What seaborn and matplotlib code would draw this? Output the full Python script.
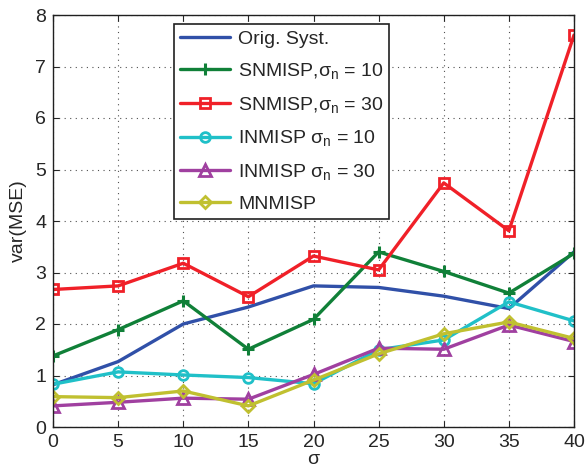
import matplotlib
matplotlib.use("Agg")
import matplotlib.pyplot as plt
import seaborn as sns
import pandas as pd

sigma = [0, 5, 10, 15, 20, 25, 30, 35, 40]
orig = [0.82, 1.27, 2.00, 2.33, 2.74, 2.71, 2.54, 2.30, 3.40]
snm10 = [1.38, 1.89, 2.45, 1.51, 2.09, 3.40, 3.02, 2.60, 3.37]
snm30 = [2.67, 2.74, 3.18, 2.53, 3.32, 3.05, 4.74, 3.81, 7.61]
inm10 = [0.83, 1.07, 1.01, 0.96, 0.84, 1.50, 1.69, 2.43, 2.06]
inm30 = [0.41, 0.48, 0.56, 0.54, 1.02, 1.53, 1.51, 1.98, 1.66]
mnm = [0.59, 0.57, 0.70, 0.41, 0.91, 1.42, 1.81, 2.04, 1.72]

labels = ["Orig. Syst.", r"SNMISP,$\sigma_n$ = 10", r"SNMISP,$\sigma_n$ = 30",
          r"INMISP $\sigma_n$ = 10", r"INMISP $\sigma_n$ = 30", "MNMISP"]
series = [orig, snm10, snm30, inm10, inm30, mnm]
colors = ["#3050a8", "#108038", "#f02028", "#20c0c8", "#a040a0", "#c0c030"]
markers = [None, "P", "s", "o", "^", "D"]

sns.set_style("ticks")
plt.rcParams['font.family'] = ['Liberation Sans', 'DejaVu Sans']
plt.rcParams['mathtext.fontset'] = 'custom'
plt.rcParams['mathtext.rm'] = 'Liberation Sans'
plt.rcParams['mathtext.it'] = 'Liberation Sans'

fig = plt.figure(figsize=(5.86, 4.67), dpi=100)
ax = fig.add_axes([53/586, 1-427/467, (574-53)/586, (427-15)/467])

for lab, vals, c, m in zip(labels, series, colors, markers):
    df = pd.DataFrame({"sigma": sigma, "val": vals})
    kw = {}
    if m is not None:
        if m == "P":
            kw = dict(marker="+", markersize=9, markeredgewidth=2.2, markeredgecolor=c)
        else:
            size = {"s": 7, "o": 7, "^": 8, "D": 6.5}[m]
            kw = dict(marker=m, markersize=size, markerfacecolor="none",
                      markeredgewidth=2.0, markeredgecolor=c)
    sns.lineplot(data=df, x="sigma", y="val", ax=ax, color=c, linewidth=2.4,
                 label=lab, **kw)

ax.set_xlim(0, 40)
ax.set_ylim(0, 8)
ax.set_xticks(sigma)
ax.set_yticks(range(0, 9))
ax.grid(True, linestyle=(0, (1, 4)), color="#505050", linewidth=0.8)
ax.tick_params(direction="in", top=True, right=True, labelsize=14, length=4,
               width=0.8, pad=5)
for s in ax.spines.values():
    s.set_linewidth(1.0)
    s.set_color("#202020")
ax.set_xlabel("σ", fontsize=14, labelpad=0)
ax.set_ylabel("var(MSE)", fontsize=14, labelpad=6)

leg = ax.legend(loc="upper left", bbox_to_anchor=(0.232, 0.978), borderaxespad=0,
                fontsize=14, frameon=True, fancybox=False, handlelength=2.6,
                labelspacing=0.7, borderpad=0.3, handletextpad=0.4)
leg.get_frame().set_edgecolor("#202020")
leg.get_frame().set_linewidth(1.2)
leg.get_frame().set_alpha(1)

fig.savefig("out.png", dpi=100)
